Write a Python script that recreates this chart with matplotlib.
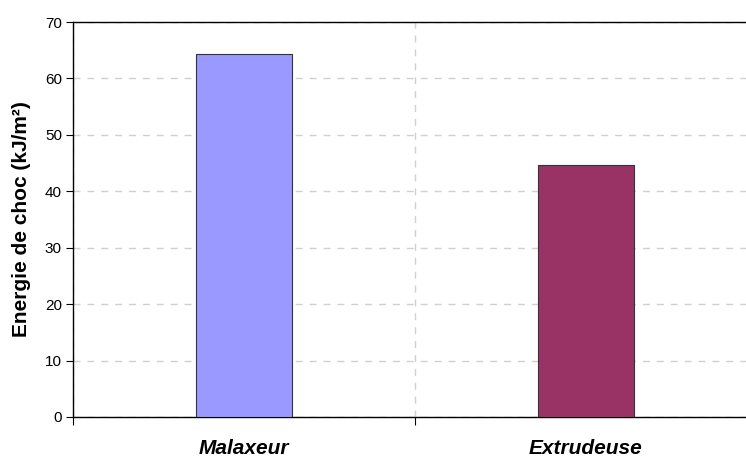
import matplotlib.pyplot as plt

categories = ['Malaxeur', 'Extrudeuse']
values = [64.4, 44.7]
colors = ['#9999FF', '#993366']
yticks = [0, 10, 20, 30, 40, 50, 60, 70]

plt.rcParams['font.family'] = ['Liberation Sans', 'DejaVu Sans']

fig = plt.figure(figsize=(7.46, 4.57), dpi=100)
ax = fig.add_axes([73 / 746, 1 - 417 / 457, 684 / 746, 395 / 457])

x = list(range(len(categories)))
ax.bar(x, values, width=0.28, color=colors, edgecolor='#333333', linewidth=0.8, zorder=3)

ax.set_xlim(-0.5, len(categories) - 0.5)
ax.set_ylim(0, 70)
ax.set_yticks(yticks)
ax.set_xticks([-0.5, 0.5, 1.5])
ax.set_xticklabels([])
ax.set_xticks(x, minor=True)
ax.set_xticklabels(categories, minor=True, fontsize=15, fontweight='bold', fontstyle='italic')
ax.tick_params(axis='x', which='minor', length=0, pad=16)
ax.tick_params(axis='x', which='major', length=6, direction='out', color='black')
ax.tick_params(axis='y', length=5, labelsize=11, pad=3)

ax.grid(axis='y', color='#D0D0D0', linestyle=(0, (5, 5)), linewidth=1, zorder=0)
ax.grid(axis='x', which='major', color='#D0D0D0', linestyle=(0, (5, 5)), linewidth=1, zorder=0)

for s in ['left', 'bottom', 'top']:
    ax.spines[s].set_color('black')
    ax.spines[s].set_linewidth(1)

ax.set_ylabel('Energie de choc (kJ/m²)', fontsize=15, fontweight='bold', labelpad=10)

fig.savefig('out.png', dpi=100)
